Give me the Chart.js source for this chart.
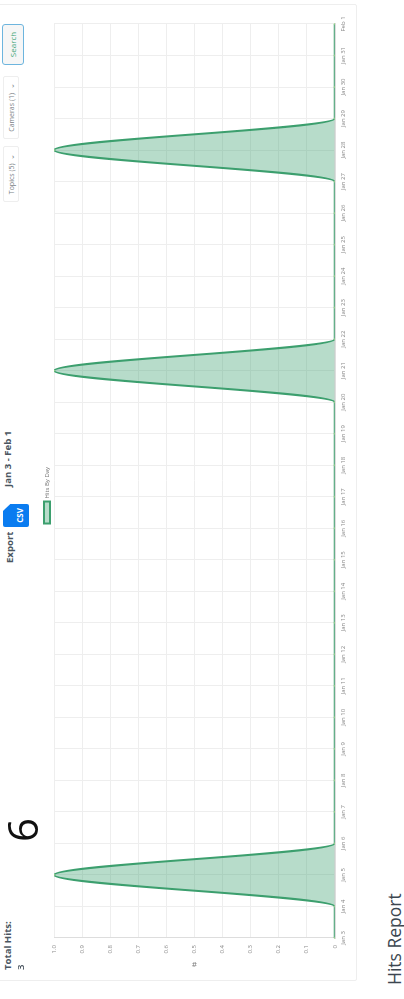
<!DOCTYPE html>
<html>
<head>
<meta charset="utf-8">
<script src="https://cdn.jsdelivr.net/npm/chart.js@4/dist/chart.umd.min.js"></script>
<style>
  html, body { margin: 0; padding: 0; background: #fff; overflow: hidden; }
  body { width: 404px; height: 999px; position: relative; font-family: "Open Sans", sans-serif; color: #4a5560; }
  /* the whole screenshot is lying on its side */
  #page { position: absolute; left: 0; top: 0; width: 999px; height: 404px; transform-origin: top left; transform: translate(0, 999px) rotate(-90deg); }
  #page > * { position: absolute; }
  #card { left: 18px; top: -4px; width: 977px; height: 361px; border: 1px solid #eee; box-sizing: border-box; border-radius: 2px; }
  #chart { left: 18px; top: 43px; }
  .bold { font-weight: 700; font-size: 9.6px; line-height: 12px; white-space: nowrap; }
  .six { font-size: 42px; line-height: 40px; color: #111; left: 157px; top: 2px; }
  .title { font-size: 17.5px; left: 14px; top: 384px; color: #3c4650; line-height: 20px; white-space: nowrap; }
  .btn { box-sizing: border-box; font-size: 7px; color: #7a7f85; border: 1px solid #eee; border-radius: 2px; text-align: center; line-height: 15px; white-space: nowrap; }
  #search { left: 934px; top: 2px; width: 41px; height: 22px; border: 1.5px solid #6db5de; background: #f6f6f6; color: #45a679; line-height: 19px; font-size: 8px; border-radius: 3px; }
  #csv { left: 472px; top: 3px; width: 23px; height: 26px; background: #0a7cf0; border-radius: 2px; color: #fff; font-size: 8px; font-weight: 700; text-align: center; line-height: 34px; clip-path: polygon(0 0, 70% 0, 100% 28%, 100% 100%, 0 100%); }
</style>
</head>
<body>
<div id="page">
  <div id="card"></div>
  <canvas id="chart" width="977" height="309"></canvas>
  <div class="bold" style="left:29px;top:2px;">Total Hits:</div>
  <div class="bold" style="left:29px;top:15px;font-weight:600;">3</div>
  <div class="six">6</div>
  <div class="bold" style="left:436px;top:4px;">Export</div>
  <div id="csv">CSV</div>
  <div class="bold" style="left:512px;top:2px;">Jan 3 - Feb 1</div>
  <div class="btn" style="left:797px;top:3px;width:56px;height:16px;">Topics (5) &nbsp;&#8964;</div>
  <div class="btn" style="left:860px;top:3px;width:63px;height:16px;">Cameras (1) &nbsp;&#8964;</div>
  <div class="btn" id="search">Search</div>
  <div class="title">Hits Report</div>
</div>
<script>
const days = ['Jan 3','Jan 4','Jan 5','Jan 6','Jan 7','Jan 8','Jan 9','Jan 10','Jan 11','Jan 12','Jan 13','Jan 14','Jan 15','Jan 16','Jan 17','Jan 18','Jan 19','Jan 20','Jan 21','Jan 22','Jan 23','Jan 24','Jan 25','Jan 26','Jan 27','Jan 28','Jan 29','Jan 30','Jan 31','Feb 1'];
const hits = [0,0,1,0,0,0,0,0,0,0,0,0,0,0,0,0,0,0,1,0,0,0,0,0,0,1,0,0,0,0];

const GREEN = '#3c9f6e';
const FONT = '"Open Sans", sans-serif';

// Legend sits tight on the plot, so trim the height it asks for.
const tightLegend = {
  id: 'tightLegend',
  beforeUpdate(chart) {
    const lg = chart.legend;
    if (lg && !lg._tight) {
      const fit = lg.fit;
      lg.fit = function () { fit.call(this); this.height = 11; };
      lg._tight = true;
    }
  },
};

new Chart(document.getElementById('chart'), {
  type: 'line',
  plugins: [tightLegend],
  data: {
    labels: days,
    datasets: [{
      label: 'Hits By Day',
      data: hits,
      borderColor: GREEN,
      backgroundColor: 'rgba(60,159,110,.37)',
      borderWidth: 2,
      fill: true,
      cubicInterpolationMode: 'monotone',
      pointRadius: 1,
      pointBackgroundColor: '#9bd68a',
      pointBorderWidth: 0,
    }],
  },
  options: {
    responsive: false,
    animation: false,
    layout: { padding: { left: 14.6, right: 20, bottom: 0, top: 0 } },
    plugins: {
      tooltip: { enabled: false },
      legend: {
        labels: { boxWidth: 22, boxHeight: 6, padding: 1, color: '#777', font: { size: 6, family: FONT } },
      },
    },
    scales: {
      x: {
        grid: { color: '#eeeeee', drawTicks: false },
        border: { color: '#dddddd', width: 2 },
        ticks: { color: '#8a8a8a', font: { size: 6, family: FONT }, maxRotation: 0, autoSkip: false, padding: 5 },
      },
      y: {
        min: 0,
        max: 1,
        title: { display: true, text: '#', color: '#777', font: { size: 8, family: FONT, lineHeight: 0.5 }, padding: { top: 0, bottom: 2 } },
        grid: { color: '#eeeeee', drawTicks: false },
        border: { color: '#dddddd' },
        ticks: {
          stepSize: 0.1, color: '#8a8a8a', font: { size: 6, family: FONT }, padding: 7,
          callback: (v) => (v === 0 ? '0' : v.toFixed(1)),
        },
      },
    },
  },
});
</script>
</body>
</html>
